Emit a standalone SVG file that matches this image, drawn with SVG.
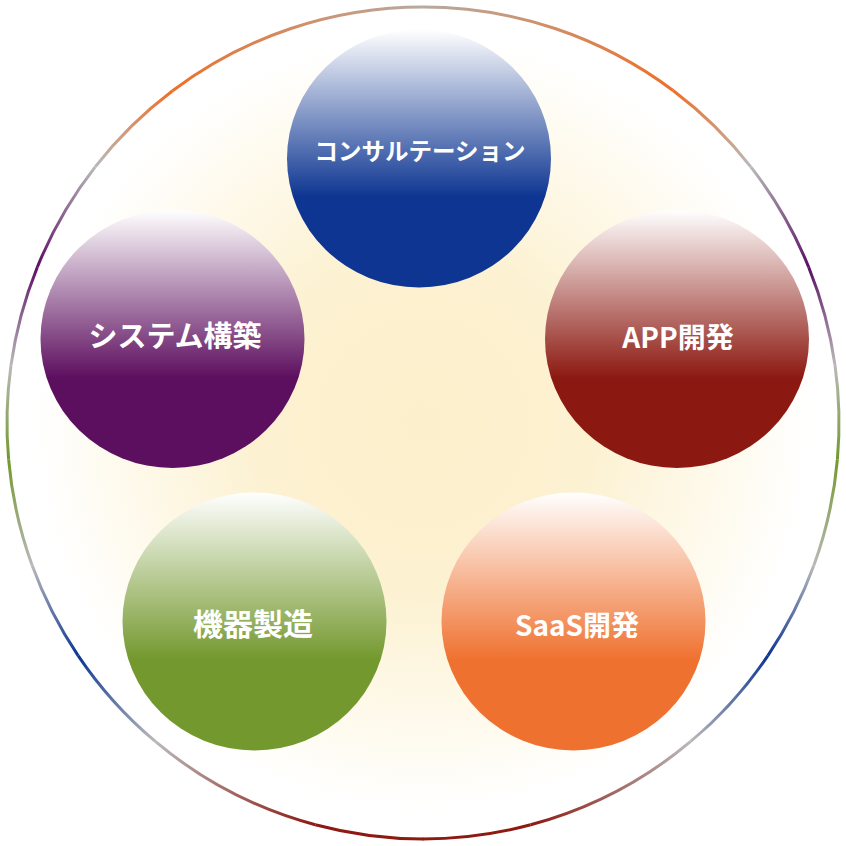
<svg xmlns="http://www.w3.org/2000/svg" xmlns:xlink="http://www.w3.org/1999/xlink" width="846" height="846" viewBox="0 0 846 846">
<style>
.lbl{font-family:"Noto Sans CJK JP","Noto Sans",sans-serif;font-weight:700;fill:#ffffff;text-anchor:middle}
.arc{fill:none;stroke-width:3}
</style>
<defs>
<radialGradient id="bg" cx="423" cy="423" r="416" gradientUnits="userSpaceOnUse">
<stop offset="0" stop-color="#fcf0cc"/>
<stop offset="0.4" stop-color="#fcf1d1"/>
<stop offset="0.7" stop-color="#fef9ea"/>
<stop offset="0.93" stop-color="#ffffff"/>
</radialGradient>
<linearGradient id="gBlue" x1="0" y1="0" x2="0" y2="1"><stop offset="0" stop-color="#ffffff"/><stop offset="0.65" stop-color="#0d3591"/></linearGradient>
<linearGradient id="gRed" x1="0" y1="0" x2="0" y2="1"><stop offset="0" stop-color="#ffffff"/><stop offset="0.65" stop-color="#8c1911"/></linearGradient>
<linearGradient id="gPurple" x1="0" y1="0" x2="0" y2="1"><stop offset="0" stop-color="#ffffff"/><stop offset="0.65" stop-color="#5d0f5f"/></linearGradient>
<linearGradient id="gGreen" x1="0" y1="0" x2="0" y2="1"><stop offset="0" stop-color="#ffffff"/><stop offset="0.65" stop-color="#73982e"/></linearGradient>
<linearGradient id="gOrange" x1="0" y1="0" x2="0" y2="1"><stop offset="0" stop-color="#ffffff"/><stop offset="0.65" stop-color="#ef712f"/></linearGradient>
<linearGradient id="a1" gradientUnits="userSpaceOnUse" x1="423" y1="7" x2="673.4" y2="90.8"><stop offset="0" stop-color="#b6aaa2"/><stop offset="1" stop-color="#ee6f27"/></linearGradient>
<linearGradient id="a2" gradientUnits="userSpaceOnUse" x1="673.4" y1="90.8" x2="750.8" y2="166.9"><stop offset="0" stop-color="#ee6f27"/><stop offset="1" stop-color="#b9b9b9"/></linearGradient>
<linearGradient id="a3" gradientUnits="userSpaceOnUse" x1="750.8" y1="166.9" x2="808.7" y2="267.2"><stop offset="0" stop-color="#b9b9b9"/><stop offset="1" stop-color="#5c0f64"/></linearGradient>
<linearGradient id="a4" gradientUnits="userSpaceOnUse" x1="808.7" y1="267.2" x2="835" y2="365.1"><stop offset="0" stop-color="#5c0f64"/><stop offset="1" stop-color="#b9b9b9"/></linearGradient>
<linearGradient id="a5" gradientUnits="userSpaceOnUse" x1="835" y1="365.1" x2="837.4" y2="459.3"><stop offset="0" stop-color="#b9b9b9"/><stop offset="1" stop-color="#72992c"/></linearGradient>
<linearGradient id="a6" gradientUnits="userSpaceOnUse" x1="837.4" y1="459.3" x2="813.9" y2="565.3"><stop offset="0" stop-color="#72992c"/><stop offset="1" stop-color="#b9b9b9"/></linearGradient>
<linearGradient id="a7" gradientUnits="userSpaceOnUse" x1="813.9" y1="565.3" x2="767.9" y2="655.6"><stop offset="0" stop-color="#b9b9b9"/><stop offset="1" stop-color="#0c3594"/></linearGradient>
<linearGradient id="a8" gradientUnits="userSpaceOnUse" x1="767.9" y1="655.6" x2="690.4" y2="741.7"><stop offset="0" stop-color="#0c3594"/><stop offset="1" stop-color="#b9b9b9"/></linearGradient>
<linearGradient id="a9" gradientUnits="userSpaceOnUse" x1="690.4" y1="741.7" x2="530.7" y2="824.8"><stop offset="0" stop-color="#b9b9b9"/><stop offset="1" stop-color="#8d1910"/></linearGradient>
</defs>

<g id="ring">
<circle cx="423" cy="423" r="416" fill="url(#bg)"/>
<g id="ringRight">
<path class="arc" stroke="url(#a1)" d="M423 7 A416 416 0 0 1 673.4 90.8"/>
<path class="arc" stroke="url(#a2)" d="M673.4 90.8 A416 416 0 0 1 750.8 166.9"/>
<path class="arc" stroke="url(#a3)" d="M750.8 166.9 A416 416 0 0 1 808.7 267.2"/>
<path class="arc" stroke="url(#a4)" d="M808.7 267.2 A416 416 0 0 1 835 365.1"/>
<path class="arc" stroke="url(#a5)" d="M835 365.1 A416 416 0 0 1 837.4 459.3"/>
<path class="arc" stroke="url(#a6)" d="M837.4 459.3 A416 416 0 0 1 813.9 565.3"/>
<path class="arc" stroke="url(#a7)" d="M813.9 565.3 A416 416 0 0 1 767.9 655.6"/>
<path class="arc" stroke="url(#a8)" d="M767.9 655.6 A416 416 0 0 1 690.4 741.7"/>
<path class="arc" stroke="url(#a9)" d="M690.4 741.7 A416 416 0 0 1 530.7 824.8"/>
<path class="arc" stroke="#8d1910" d="M530.7 824.8 A416 416 0 0 1 422.5 839"/>
</g>
<use xlink:href="#ringRight" transform="matrix(-1 0 0 1 846 0)"/>
</g>

<g id="connectors"/>

<g id="node-consulting">
<ellipse cx="419" cy="158.5" rx="132" ry="129" fill="url(#gBlue)"/>
<text class="lbl" x="420" y="160" font-size="23.5">コンサルテーション</text>
</g>
<g id="node-system">
<ellipse cx="172.5" cy="339" rx="132" ry="129" fill="url(#gPurple)"/>
<text class="lbl" x="175" y="347" font-size="29">システム構築</text>
</g>
<g id="node-app">
<ellipse cx="677" cy="339" rx="132" ry="129" fill="url(#gRed)"/>
<text class="lbl" x="678" y="348" font-size="28">APP開発</text>
</g>
<g id="node-device">
<ellipse cx="254.5" cy="621.5" rx="132" ry="129" fill="url(#gGreen)"/>
<text class="lbl" x="253" y="635" font-size="30">機器製造</text>
</g>
<g id="node-saas">
<ellipse cx="573.5" cy="621.5" rx="132" ry="129" fill="url(#gOrange)"/>
<text class="lbl" x="577" y="636" font-size="28">SaaS開発</text>
</g>
</svg>
